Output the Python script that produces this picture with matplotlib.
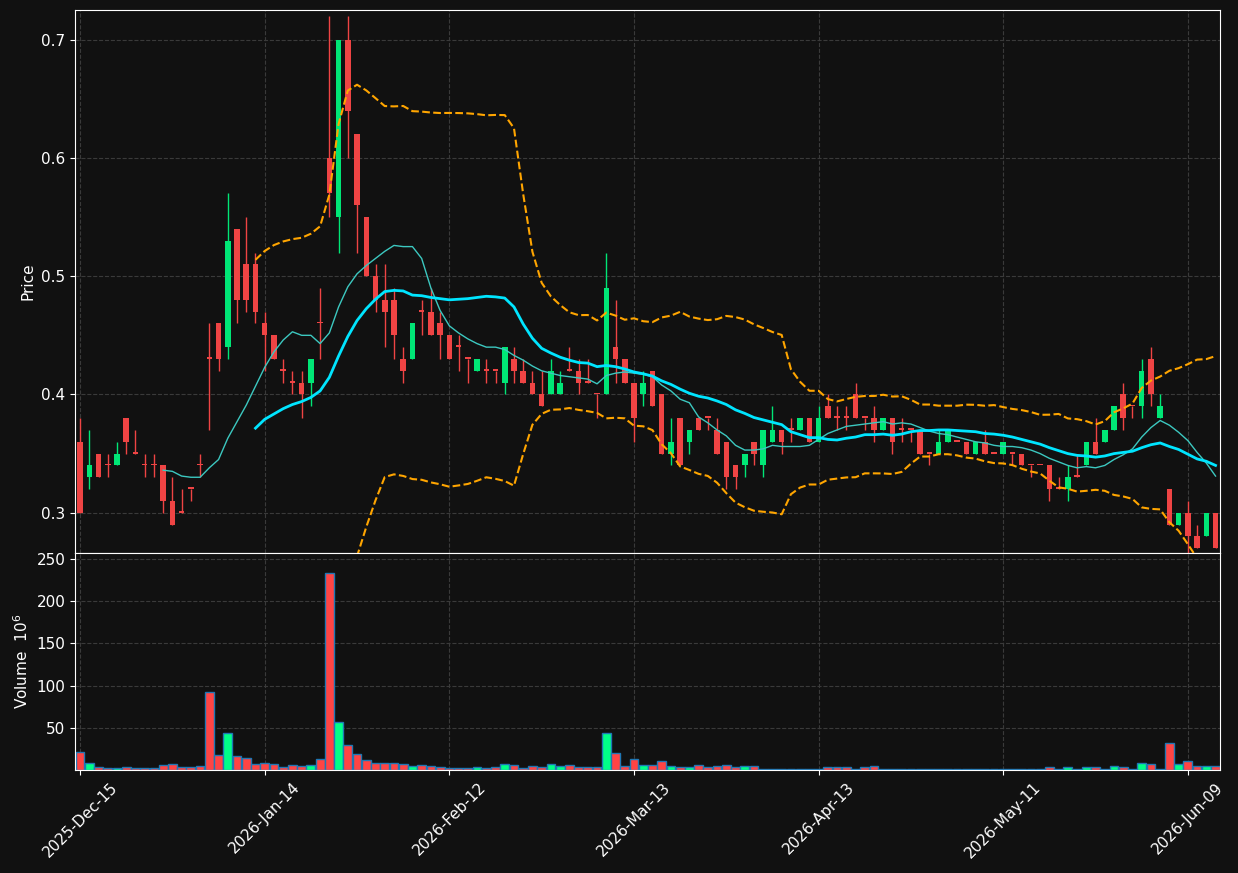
import numpy as np
import pandas as pd
import matplotlib
matplotlib.use("Agg")
import matplotlib.pyplot as plt

# trading days (NYSE calendar)
holidays = ["2025-12-25", "2026-01-01", "2026-01-19", "2026-02-16", "2026-04-03", "2026-05-25"]
days = pd.bdate_range("2025-12-15", periods=130, freq="C", holidays=holidays)[:124]

opens = [0.36, 0.33, 0.35, 0.34, 0.34, 0.38, 0.35, 0.34, 0.34, 0.34, 0.31, 0.30, 0.32, 0.34, 0.43, 0.46, 0.44, 0.54, 0.51, 0.51,
         0.46, 0.45, 0.42, 0.41, 0.41, 0.41, 0.46, 0.60, 0.55, 0.70, 0.62, 0.55, 0.50, 0.48, 0.48, 0.43, 0.43, 0.47, 0.47, 0.46,
         0.45, 0.44, 0.43, 0.42, 0.42, 0.42, 0.41, 0.43, 0.42, 0.41, 0.40, 0.40, 0.40, 0.42, 0.42, 0.41, 0.40, 0.40, 0.44, 0.43,
         0.41, 0.40, 0.42, 0.40, 0.35, 0.38, 0.36, 0.38, 0.38, 0.37, 0.36, 0.34, 0.34, 0.36, 0.34, 0.36, 0.37, 0.37, 0.37, 0.38,
         0.36, 0.39, 0.38, 0.38, 0.40, 0.38, 0.38, 0.37, 0.38, 0.37, 0.37, 0.37, 0.35, 0.35, 0.36, 0.36, 0.36, 0.35, 0.36, 0.35,
         0.35, 0.35, 0.35, 0.34, 0.34, 0.34, 0.32, 0.32, 0.33, 0.34, 0.36, 0.36, 0.37, 0.40, 0.39, 0.39, 0.43, 0.38, 0.32, 0.29,
         0.30, 0.28, 0.28, 0.30]
highs = [0.38, 0.37, 0.35, 0.35, 0.36, 0.38, 0.37, 0.35, 0.35, 0.34, 0.33, 0.32, 0.32, 0.35, 0.46, 0.46, 0.57, 0.54, 0.55, 0.52,
         0.47, 0.45, 0.43, 0.42, 0.42, 0.43, 0.49, 0.72, 0.70, 0.72, 0.62, 0.55, 0.51, 0.51, 0.49, 0.44, 0.46, 0.48, 0.49, 0.47,
         0.45, 0.45, 0.43, 0.43, 0.43, 0.42, 0.44, 0.44, 0.43, 0.42, 0.42, 0.43, 0.42, 0.44, 0.43, 0.43, 0.40, 0.52, 0.48, 0.43,
         0.41, 0.42, 0.42, 0.40, 0.38, 0.38, 0.37, 0.38, 0.38, 0.38, 0.36, 0.34, 0.35, 0.36, 0.37, 0.39, 0.37, 0.38, 0.38, 0.38,
         0.39, 0.40, 0.39, 0.39, 0.41, 0.38, 0.39, 0.38, 0.38, 0.38, 0.37, 0.37, 0.35, 0.37, 0.37, 0.36, 0.36, 0.36, 0.37, 0.35,
         0.36, 0.35, 0.35, 0.34, 0.34, 0.34, 0.33, 0.34, 0.35, 0.36, 0.38, 0.37, 0.39, 0.41, 0.39, 0.43, 0.44, 0.40, 0.32, 0.30,
         0.31, 0.29, 0.30, 0.30]
lows = [0.30, 0.32, 0.33, 0.33, 0.34, 0.35, 0.35, 0.33, 0.33, 0.30, 0.29, 0.30, 0.31, 0.33, 0.37, 0.42, 0.43, 0.46, 0.47, 0.46,
        0.42, 0.43, 0.41, 0.40, 0.38, 0.39, 0.43, 0.55, 0.52, 0.60, 0.52, 0.50, 0.47, 0.44, 0.43, 0.41, 0.43, 0.45, 0.45, 0.43,
        0.43, 0.42, 0.41, 0.42, 0.41, 0.41, 0.40, 0.41, 0.41, 0.40, 0.39, 0.40, 0.40, 0.42, 0.40, 0.41, 0.38, 0.40, 0.41, 0.41,
        0.36, 0.39, 0.39, 0.35, 0.34, 0.34, 0.35, 0.37, 0.37, 0.35, 0.32, 0.32, 0.33, 0.34, 0.33, 0.36, 0.35, 0.36, 0.37, 0.36,
        0.36, 0.38, 0.37, 0.37, 0.38, 0.37, 0.36, 0.37, 0.35, 0.36, 0.36, 0.35, 0.34, 0.35, 0.36, 0.36, 0.35, 0.35, 0.35, 0.35,
        0.35, 0.34, 0.34, 0.33, 0.34, 0.31, 0.32, 0.31, 0.33, 0.34, 0.35, 0.36, 0.37, 0.37, 0.38, 0.38, 0.39, 0.38, 0.29, 0.29,
        0.26, 0.27, 0.28, 0.27]
closes = [0.30, 0.34, 0.33, 0.34, 0.35, 0.36, 0.35, 0.34, 0.34, 0.31, 0.29, 0.30, 0.32, 0.34, 0.43, 0.43, 0.53, 0.48, 0.48, 0.47,
          0.45, 0.43, 0.42, 0.41, 0.40, 0.43, 0.46, 0.57, 0.70, 0.64, 0.56, 0.50, 0.48, 0.47, 0.45, 0.42, 0.46, 0.47, 0.45, 0.45,
          0.43, 0.44, 0.43, 0.43, 0.42, 0.42, 0.44, 0.42, 0.41, 0.40, 0.39, 0.42, 0.41, 0.42, 0.41, 0.41, 0.40, 0.49, 0.43, 0.41,
          0.38, 0.41, 0.39, 0.35, 0.36, 0.34, 0.37, 0.37, 0.38, 0.35, 0.33, 0.33, 0.35, 0.35, 0.37, 0.37, 0.36, 0.37, 0.38, 0.36,
          0.38, 0.38, 0.38, 0.38, 0.38, 0.38, 0.37, 0.38, 0.36, 0.37, 0.37, 0.35, 0.35, 0.36, 0.37, 0.36, 0.35, 0.36, 0.35, 0.35,
          0.36, 0.35, 0.34, 0.34, 0.34, 0.32, 0.32, 0.33, 0.33, 0.36, 0.35, 0.37, 0.39, 0.38, 0.39, 0.42, 0.40, 0.39, 0.29, 0.30,
          0.28, 0.27, 0.30, 0.27]
volumes = [21, 8, 3.5, 2, 2, 3.5, 2, 2, 2, 6, 7, 3.5, 3.5, 5, 92, 18, 44, 17, 14, 7,
           8, 7, 3.5, 6, 5, 6, 13, 233, 57, 30, 19, 12, 8, 8, 8, 7, 5, 6, 5, 3.5,
           2.5, 2, 2, 3.5, 2, 3.5, 7, 6, 2.5, 5, 3.5, 7, 5, 6, 3.5, 3.5, 3.5, 44, 20, 5,
           13, 6, 5.6, 10.4, 4.4, 3, 3, 5.6, 3, 4.4, 5.6, 3, 4.4, 4.4, 1.6, 1.6, 1.6, 1.6, 0.8, 1.6,
           1.6, 3, 3, 3, 1.6, 3, 4.4, 1.6, 1.6, 1.6, 1.6, 0.8, 0.8, 1.6, 1.6, 0.8, 1.6, 1.6, 1.6, 1.6,
           1.6, 1.6, 1.6, 1.6, 1.6, 3, 1.6, 3, 1.6, 3, 3, 1.6, 4.4, 3, 1.6, 8, 7, 1.6, 32, 7,
           10.4, 4.4, 4.4, 4.4]

tick_idx = [0, 20, 40, 60, 80, 100, 120]

bg = "#111111"
up_c = "#00e676"
dn_c = "#ef4444"

plt.rcParams["font.family"] = ["DejaVu Sans"]
fig = plt.figure(figsize=(12.38, 8.73), dpi=100, facecolor=bg)
ax = fig.add_axes([0.0606, 0.3666, 0.925, 0.6219])
axv = fig.add_axes([0.0606, 0.1180, 0.925, 0.2486], sharex=ax)

x = np.arange(len(closes))
o = np.array(opens); h = np.array(highs); l = np.array(lows); c = np.array(closes)
cols = [up_c if cc > oo else dn_c for oo, cc in zip(o, c)]

ax.vlines(x, l, h, colors=cols, linewidth=1, zorder=3)
body = np.abs(c - o)
body = np.where(body < 0.001, 0.0015, body)
ax.bar(x, body, bottom=np.minimum(o, c), width=0.6, color=cols, linewidth=0, zorder=4)

s = pd.Series(c)
ma10 = s.rolling(10).mean()
ma20 = s.rolling(20).mean()
sd20 = s.rolling(20).std()
ax.plot(x, ma10, color="#3cc8c0", linewidth=1, zorder=5)
ax.plot(x, ma20, color="#00e5ff", linewidth=2, zorder=5)
ax.plot(x, ma20 + 2 * sd20, color="orange", linestyle="--", linewidth=1.5, zorder=5)
ax.plot(x, ma20 - 2 * sd20, color="orange", linestyle="--", linewidth=1.5, zorder=5)

vcols = ["#00ff88" if cc > oo else "#ff4444" for oo, cc in zip(o, c)]
axv.bar(x, volumes, width=0.95, color=vcols, edgecolor="#1f77b4", linewidth=1)

ax.set_ylim(0.266, 0.725)
ax.set_yticks([0.3, 0.4, 0.5, 0.6, 0.7])
axv.set_ylim(0, 257)
axv.set_yticks([50, 100, 150, 200, 250])
ax.set_xlim(-0.55, 123.5)
axv.set_xticks(tick_idx)
axv.set_xticklabels([days[i].strftime("%Y-%b-%d") for i in tick_idx], rotation=45, ha="center")
plt.setp(ax.get_xticklabels(), visible=False)

ax.set_ylabel("Price", color="white", fontsize=11)
axv.set_ylabel("Volume  $10^{6}$", color="white", fontsize=11)
for a in (ax, axv):
    a.set_facecolor(bg)
    a.grid(True, color="#3a3a3a", linestyle="--", linewidth=0.8)
    a.set_axisbelow(True)
    a.tick_params(colors="white", labelsize=11)
    for sp in a.spines.values():
        sp.set_color("white")

fig.savefig("out.png", dpi=100, facecolor=bg)
